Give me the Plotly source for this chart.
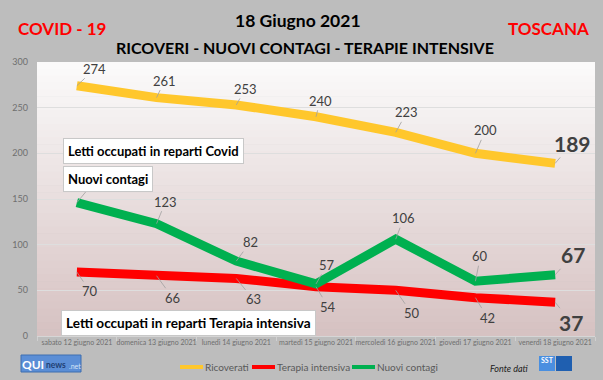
import plotly.graph_objects as go

categories = ["sabato 12 giugno 2021", "domenica 13 giugno 2021", "lunedì 14 giugno 2021",
              "martedì 15 giugno 2021", "mercoledì 16 giugno 2021", "giovedì 17 giugno 2021",
              "venerdì 18 giugno 2021"]
ricoverati = [274, 261, 253, 240, 223, 200, 189]
terapia = [70, 66, 63, 54, 50, 42, 37]
contagi = [146, 123, 82, 57, 106, 60, 67]
series_names = ["Ricoverati", "Terapia intensiva", "Nuovi contagi"]

YELLOW = "#FFC72C"
RED = "#FF0000"
GREEN = "#00B050"
FONT = "Lato"

# plot area in pixels
L, R, T, B = 37, 595, 62, 336
W, H = 603, 380


def px(x):
    return (x - L) / (R - L)


def py(y):
    return (B - y) / (B - T)


fig = go.Figure()
fig.add_trace(go.Scatter(x=categories, y=ricoverati, mode="lines", name=series_names[0],
                         line=dict(color=YELLOW, width=9)))
fig.add_trace(go.Scatter(x=categories, y=terapia, mode="lines", name=series_names[1],
                         line=dict(color=RED, width=9)))
fig.add_trace(go.Scatter(x=categories, y=contagi, mode="lines", name=series_names[2],
                         line=dict(color=GREEN, width=9)))

# gradient background bands
shapes = []
n = 40
top = (251, 251, 251)
bot = (214, 193, 193)
for i in range(n):
    t = (i + 0.5) / n
    c = tuple(int(round(top[k] + (bot[k] - top[k]) * t)) for k in range(3))
    shapes.append(dict(type="rect", xref="x domain", yref="y domain", x0=0, x1=1,
                       y0=1 - (i + 1) / n - 0.002, y1=1 - i / n, layer="below",
                       line=dict(width=0), fillcolor="rgb(%d,%d,%d)" % c))

annotations = []

# data labels
off_r = [(18, -17), (8, -17), (9, -16), (4, -16), (11, -20), (10, -23), (17, -20)]
off_t = [(13, 19), (16, 22), (17, 21), (12, 20), (16, 23), (12, 20), (16, 20)]
off_c = [(14, -17), (9, -22), (14, -19), (11, -19), (8, -21), (5, -25), (18, -20)]


def add_labels(vals, offs, hidden=()):
    last = len(vals) - 1
    for i, (v, (ax, ay)) in enumerate(zip(vals, offs)):
        big = i == last
        annotations.append(dict(
            x=categories[i], y=v, xref="x", yref="y", text="" if i in hidden else str(v),
            showarrow=True, arrowhead=0, arrowwidth=0.8, arrowcolor="#a0a0a0",
            ax=ax, ay=ay, standoff=0,
            font=dict(family=FONT, size=21 if big else 13, color="#404040",
                      weight="bold" if big else "normal")))


add_labels(ricoverati, off_r)
add_labels(terapia, off_t)
add_labels(contagi, off_c, hidden=(0,))  # first label lies under the text box


def txt(x, y, text, size, color, xanchor="center", yanchor="middle", **kw):
    annotations.append(dict(x=px(x), y=py(y), xref="paper", yref="paper", text=text,
                            showarrow=False, xanchor=xanchor, yanchor=yanchor,
                            font=dict(family=FONT, size=size, color=color), **kw))


# series boxes
boxes = [("Letti occupati in reparti Covid", 63, 151, 13),
         ("Nuovi contagi", 63, 178.5, 13),
         ("Letti occupati in reparti Terapia intensiva", 61, 323, 13.6)]
for text, bx, by, fs in boxes:
    txt(bx, by, "<b>%s</b>" % text, fs, "black", xanchor="left",
        bgcolor="white", bordercolor="#c8c8c8", borderwidth=1, borderpad=4)

# titles
txt(298, 20, "<b>18 Giugno 2021</b>", 17.5, "black")
txt(305, 48, "<b>RICOVERI - NUOVI CONTAGI - TERAPIE INTENSIVE</b>", 16, "black")
txt(16, 28, "<b>COVID - 19</b>", 17, "#FF0000", xanchor="left")
txt(591, 29, "<b>TOSCANA</b>", 17, "#FF0000", xanchor="right")

# manual legend
leg = [(180, YELLOW), (252, RED), (352, GREEN)]
for (lx, col), name in zip(leg, series_names):
    shapes.append(dict(type="line", xref="paper", yref="paper", x0=px(lx), x1=px(lx + 23),
                       y0=py(367), y1=py(367), line=dict(color=col, width=4)))
    txt(lx + 23, 367, name, 10, "#595959", xanchor="left")

# logos
shapes.append(dict(type="rect", xref="paper", yref="paper", x0=px(21), x1=px(81), y0=py(372), y1=py(355),
                   fillcolor="#5b8ed6", line=dict(color="#3f6fb0", width=1)))
txt(21, 364, "<b>QUI</b>", 12, "white", xanchor="left", borderpad=0)
txt(45, 365, "<b>news</b>", 8.5, "#1f3f73", xanchor="left", borderpad=0)
txt(68, 365.5, ".net", 7, "#d5e4f7", xanchor="left", borderpad=0)
shapes.append(dict(type="rect", xref="paper", yref="paper", x0=px(539), x1=px(555), y0=py(371), y1=py(356),
                   fillcolor="#4a8fe0", line=dict(width=0)))
shapes.append(dict(type="rect", xref="paper", yref="paper", x0=px(556), x1=px(572), y0=py(371), y1=py(356),
                   fillcolor="#1f5fb0", line=dict(width=0)))
txt(547, 360, "<b>SST</b>", 7, "white")
txt(531, 368, "<i>Fonte dati</i>", 9, "#202020", xanchor="right")

fig.update_layout(
    width=W, height=H,
    margin=dict(l=L, r=W - R, t=T, b=H - B),
    paper_bgcolor="#bdbdbd",
    plot_bgcolor="rgba(0,0,0,0)",
    shapes=shapes,
    annotations=annotations,
    showlegend=False,
    font=dict(family=FONT),
)
fig.update_xaxes(type="category", range=[-0.5, 6.5], showgrid=False,
                 tickfont=dict(family=FONT, size=7, color="#6f6f6f"),
                 ticks="outside", tickson="boundaries", ticklen=4, tickcolor="#d0d0d0",
                 showline=True, linecolor="#d6d6d6", linewidth=1, tickangle=0)
fig.update_yaxes(range=[0, 300], dtick=50, showgrid=True, gridcolor="#dedede", gridwidth=1,
                 zeroline=False, tickfont=dict(family=FONT, size=9, color="#6f6f6f"),
                 ticklabelstandoff=8, showline=False)

fig.write_html("out.html", config={"displayModeBar": False},
               post_script="document.body.style.margin='0';document.body.style.padding='0';"
                           "document.body.style.overflow='hidden';")
